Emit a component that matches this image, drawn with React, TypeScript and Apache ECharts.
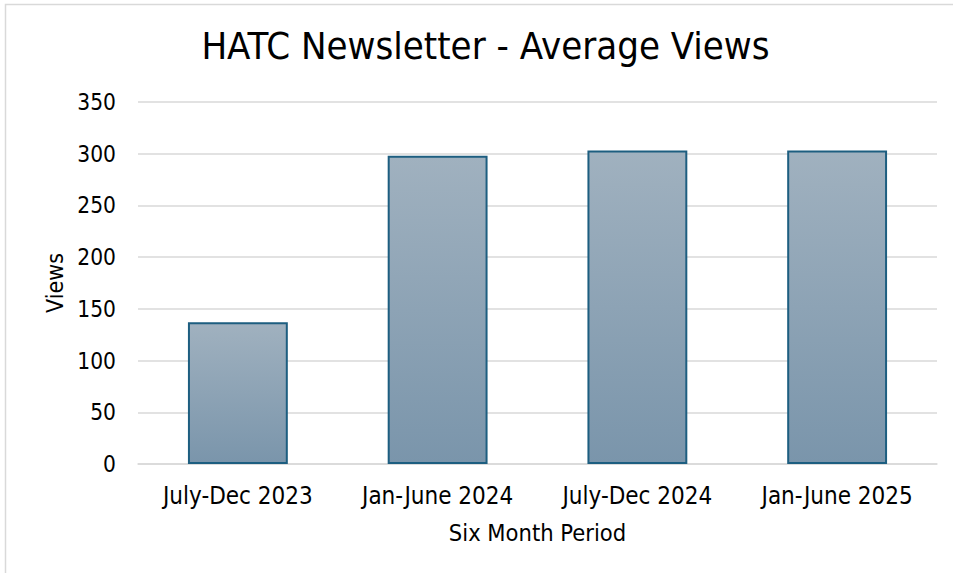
import React, { useEffect, useRef } from "react";
import * as echarts from "echarts";

const titleText = "HATC Newsletter - Average Views";
const categories = ["July-Dec 2023", "Jan-June 2024", "July-Dec 2024", "Jan-June 2025"];
const views = [137, 298, 303, 303];
const yAxisName = "Views";
const xAxisName = "Six Month Period";

const FONT = "'DejaVu Sans Condensed', 'DejaVu Sans', sans-serif";

export default function App() {
  const ref = useRef<HTMLDivElement>(null);
  useEffect(() => {
    if (!ref.current) return;
    const chart = echarts.init(ref.current, null, { renderer: "svg" });
    chart.setOption({
      animation: false,
      backgroundColor: "#ffffff",
      textStyle: { fontFamily: FONT, color: "#000000" },
      graphic: [
        {
          type: "rect",
          shape: { x: 5.5, y: 4.5, width: 1000, height: 700 },
          style: { fill: "none", stroke: "#d9d9d9", lineWidth: 1.5 },
          silent: true,
        },
        {
          type: "text",
          x: 485.5,
          y: 46,
          style: {
            text: titleText,
            fontFamily: FONT,
            fontSize: 38,
            fill: "#000000",
            textAlign: "center",
            textVerticalAlign: "middle",
          },
        },
      ],
      grid: { left: 138, right: 16, top: 102, bottom: 109, containLabel: false },
      xAxis: {
        type: "category",
        data: categories,
        name: xAxisName,
        nameLocation: "middle",
        nameGap: 57,
        nameTextStyle: { fontFamily: FONT, fontSize: 23.5, color: "#000000" },
        axisLine: { show: true, lineStyle: { color: "#d9d9d9", width: 1.5 } },
        axisTick: { show: false },
        axisLabel: { fontFamily: FONT, fontSize: 24, color: "#000000", margin: 20 },
      },
      yAxis: {
        type: "value",
        min: 0,
        max: 350,
        interval: 50,
        name: yAxisName,
        nameLocation: "middle",
        nameGap: 72,
        nameTextStyle: { fontFamily: FONT, fontSize: 23, color: "#000000" },
        axisLine: { show: false },
        axisTick: { show: false },
        axisLabel: { fontFamily: FONT, fontSize: 22.5, color: "#000000", margin: 22 },
        splitLine: { lineStyle: { color: "#d9d9d9", width: 1.5 } },
      },
      series: [
        {
          type: "bar",
          data: views,
          barWidth: "50%",
          itemStyle: {
            color: new echarts.graphic.LinearGradient(0, 0, 0, 1, [
              { offset: 0, color: "#a0b1bf" },
              { offset: 1, color: "#7a95ab" },
            ]),
            borderColor: "#1d5e80",
            borderWidth: 2,
          },
        },
      ],
    });
    return () => chart.dispose();
  }, []);
  return (
    <div
      ref={ref}
      style={{ position: "fixed", left: 0, top: 0, width: 953, height: 573 }}
    />
  );
}
